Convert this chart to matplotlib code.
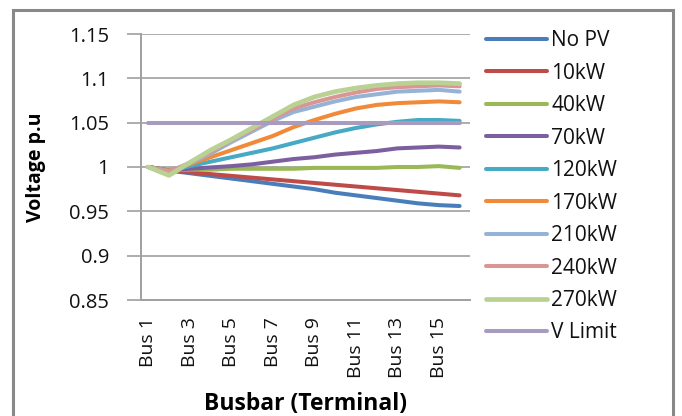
import matplotlib
matplotlib.use("Agg")
import matplotlib.pyplot as plt
from matplotlib.patches import Rectangle

buses = ["Bus 1", "Bus 2", "Bus 3", "Bus 4", "Bus 5", "Bus 6", "Bus 7", "Bus 8",
         "Bus 9", "Bus 10", "Bus 11", "Bus 12", "Bus 13", "Bus 14", "Bus 15", "Bus 16"]

no_pv  = [1.000, 0.996, 0.993, 0.990, 0.987, 0.984, 0.981, 0.978, 0.975, 0.971, 0.968, 0.965, 0.962, 0.959, 0.957, 0.956]
kw10   = [1.000, 0.996, 0.994, 0.992, 0.990, 0.988, 0.986, 0.984, 0.982, 0.980, 0.978, 0.976, 0.974, 0.972, 0.970, 0.968]
kw40   = [1.000, 0.996, 0.997, 0.997, 0.998, 0.998, 0.998, 0.998, 0.999, 0.999, 0.999, 0.999, 1.000, 1.000, 1.001, 0.999]
kw70   = [1.000, 0.996, 0.998, 0.9995, 1.001, 1.003, 1.006, 1.009, 1.011, 1.014, 1.016, 1.018, 1.021, 1.022, 1.023, 1.022]
kw120  = [1.000, 0.996, 1.001, 1.006, 1.011, 1.016, 1.021, 1.027, 1.033, 1.039, 1.044, 1.048, 1.051, 1.053, 1.053, 1.052]
kw170  = [1.000, 0.996, 1.003, 1.011, 1.019, 1.027, 1.035, 1.045, 1.053, 1.060, 1.066, 1.070, 1.072, 1.073, 1.074, 1.073]
kw210  = [1.000, 0.995, 1.004, 1.015, 1.028, 1.040, 1.052, 1.062, 1.068, 1.074, 1.079, 1.082, 1.085, 1.086, 1.087, 1.085]
kw240  = [1.000, 0.994, 1.005, 1.017, 1.030, 1.042, 1.054, 1.066, 1.073, 1.079, 1.084, 1.088, 1.090, 1.091, 1.092, 1.091]
kw270  = [1.000, 0.9905, 1.005, 1.019, 1.031, 1.044, 1.057, 1.070, 1.079, 1.085, 1.089, 1.092, 1.094, 1.095, 1.095, 1.094]
v_limit = [1.05] * 16

series_labels = ["No PV", "10kW", "40kW", "70kW", "120kW", "170kW", "210kW", "240kW", "270kW", "V Limit"]
series_values = [no_pv, kw10, kw40, kw70, kw120, kw170, kw210, kw240, kw270, v_limit]
colors = ["#4A7EBB", "#BE4B48", "#98B954", "#7D5FA0", "#46AAC5", "#F08A38",
          "#95B3D7", "#D99694", "#B9D293", "#A99BC0"]

y_ticks = [0.85, 0.9, 0.95, 1.0, 1.05, 1.1, 1.15]
y_ticklabels = ["0.85", "0.9", "0.95", "1", "1.05", "1.1", "1.15"]

plt.rcParams['font.family'] = ['Open Sans', 'DejaVu Sans']

W, H = 682, 416
fig = plt.figure(figsize=(W / 100, H / 100), dpi=100)
fig.patch.set_facecolor("white")

# chart border
fig.add_artist(Rectangle((13 / W, -0.1), (673 - 13) / W, (416 - 10) / H + 0.1,
                         transform=fig.transFigure, fill=False,
                         edgecolor="#888888", linewidth=2.2))

ax = fig.add_axes([141 / W, 1 - 300 / H, (470 - 141) / W, (300 - 34) / H])
x = list(range(len(buses)))
for vals, lab, c in zip(series_values, series_labels, colors):
    lw = 3.4 if lab == "270kW" else 2.9
    ax.plot(x, vals, color=c, lw=lw, label=lab, solid_capstyle="round",
            solid_joinstyle="round")

ax.set_xlim(-0.35, len(buses) - 0.5)
ax.set_ylim(0.85, 1.15)
ax.set_yticks(y_ticks)
ax.set_yticklabels(y_ticklabels)
ax.set_xticks(x[::2])
ax.set_xticklabels(buses[::2], rotation=90)
ax.tick_params(axis="y", length=10, width=1.2, color="#A0A0A0", labelsize=14.5,
               pad=13, labelcolor="#111111")
ax.tick_params(axis="x", length=0, labelsize=14, pad=12, labelcolor="#111111")
ax.grid(axis="y", color="#A0A0A0", lw=1.2)
ax.set_axisbelow(True)
for s in ["top", "right"]:
    ax.spines[s].set_visible(False)
ax.spines["left"].set_color("#A0A0A0")
ax.spines["left"].set_linewidth(1.4)
ax.spines["bottom"].set_color("#A0A0A0")
ax.spines["bottom"].set_linewidth(1.4)

ax.set_ylabel("Voltage p.u", fontsize=14, fontweight="bold")
ax.yaxis.set_label_coords(-0.29, 0.5)
ax.set_xlabel("Busbar (Terminal)", fontsize=16.5, fontweight="bold")
ax.xaxis.set_label_coords(0.5, -0.345)

leg = fig.legend(loc="upper left", bbox_to_anchor=(478 / W, 1 - 22 / H),
                 frameon=False, fontsize=15, handlelength=2.9, handletextpad=0.22,
                 labelspacing=0.55, borderaxespad=0)
for t in leg.get_texts():
    t.set_color("#111111")

fig.savefig("out.png", dpi=100, facecolor="white")
